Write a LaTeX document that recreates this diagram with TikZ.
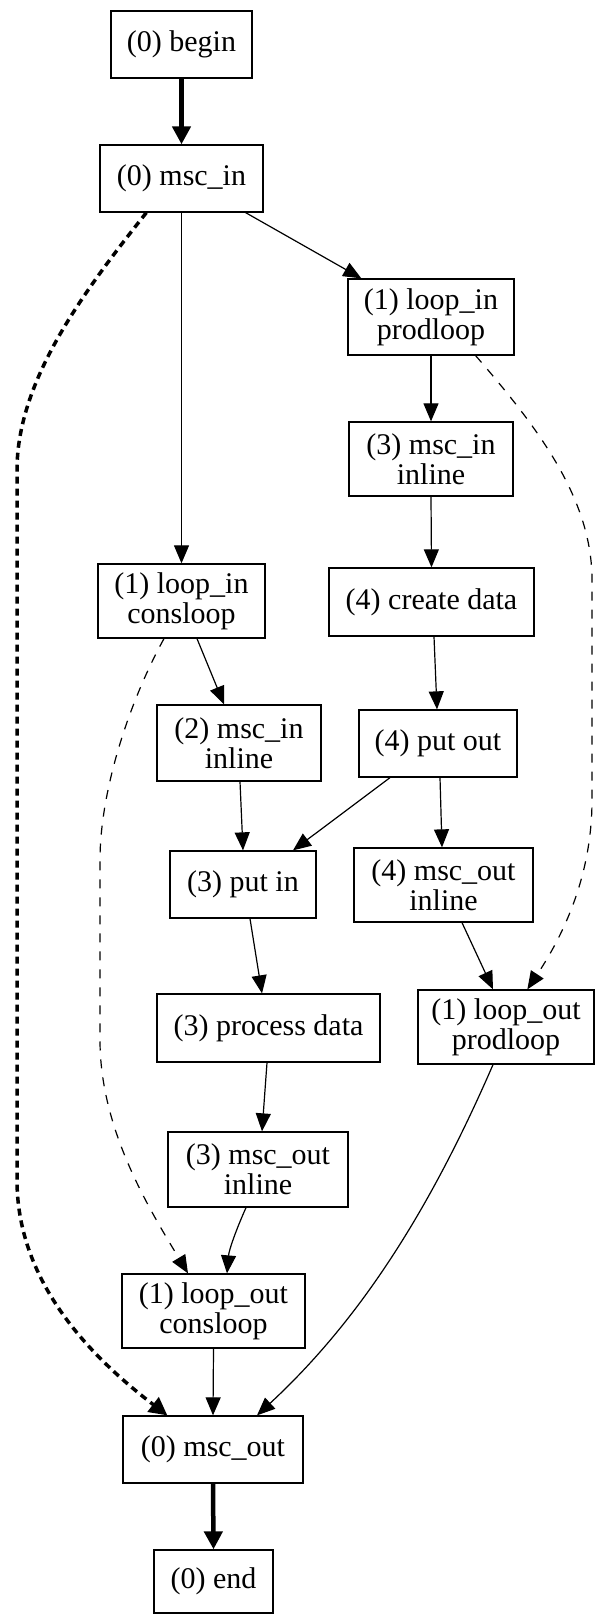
\documentclass[tikz,border=0pt]{standalone}
\usepackage{fontspec}
\setmainfont{Liberation Serif}
\usetikzlibrary{arrows.meta,calc}
\tikzset{
  box/.style={draw, line width=1.3pt, rectangle, inner sep=0pt, align=center,
    font=\fontsize{30}{30}\selectfont},
  edge/.style={line width=1.2pt, -{Triangle[length=18pt,width=15pt]}},
  thickedge/.style={line width=4.5pt, -{Triangle[length=18pt,width=18pt]}},
  thindash/.style={edge, dash pattern=on 9pt off 9pt},
  thickdash/.style={line width=3.5pt, dash pattern=on 7pt off 5pt,
    -{Triangle[length=18pt,width=18pt]}},
}
\begin{document}
\begin{tikzpicture}[x=1pt,y=-1pt]
\useasboundingbox (0,0) rectangle (595,1614);
\node[box, minimum width=141pt, minimum height=67pt] (begin) at (181.5,44.5) {(0) begin};
\node[box, minimum width=163pt, minimum height=67pt] (mscin) at (181.5,178.5) {(0) msc\_in};
\node[box, minimum width=166pt, minimum height=76pt] (lip) at (431,317) {(1) loop\_in\\prodloop};
\node[box, minimum width=164pt, minimum height=74pt] (mii3) at (431,459) {(3) msc\_in\\inline};
\node[box, minimum width=167pt, minimum height=74pt] (lic) at (181.5,601) {(1) loop\_in\\consloop};
\node[box, minimum width=205pt, minimum height=68pt] (cd) at (431.5,602) {(4) create data};
\node[box, minimum width=164pt, minimum height=76pt] (mii2) at (239,743) {(2) msc\_in\\inline};
\node[box, minimum width=158pt, minimum height=67pt] (po) at (438,743.5) {(4) put out};
\node[box, minimum width=146pt, minimum height=67pt] (pi) at (243,884.5) {(3) put in};
\node[box, minimum width=179pt, minimum height=74pt] (moi4) at (443.5,885) {(4) msc\_out\\inline};
\node[box, minimum width=223pt, minimum height=68pt] (pd) at (268.5,1028) {(3) process data};
\node[box, minimum width=176pt, minimum height=74pt] (lop) at (506,1027) {(1) loop\_out\\prodloop};
\node[box, minimum width=180pt, minimum height=75pt] (moi3) at (258,1169.5) {(3) msc\_out\\inline};
\node[box, minimum width=183pt, minimum height=74pt] (loc) at (213.5,1311) {(1) loop\_out\\consloop};
\node[box, minimum width=180pt, minimum height=67pt] (mo) at (213,1449.5) {(0) msc\_out};
\node[box, minimum width=119pt, minimum height=63pt] (end) at (213.5,1581.5) {(0) end};

\draw[thickedge] (begin.south) -- (mscin.north);
\draw[edge] (mscin.south) -- (lic.north);
\draw[edge] ($(mscin.south east)+(-18,0)$) -- ($(lip.north west)+(14,0)$);
\draw[thickdash] ($(mscin.south west)+(47,0)$) .. controls (85,290) and (17,380) .. (17,470)
   -- (17,1180) .. controls (17,1285) and (95,1360) .. ($(mo.north west)+(45,0)$);
\draw[edge] (lip.south) -- (mii3.north);
\draw[thindash] ($(lip.south east)+(-39,0)$) .. controls (540,430) and (592,500) .. (592,580)
   -- (592,800) .. controls (592,880) and (560,940) .. ($(lop.north west)+(110,0)$);
\draw[edge] (mii3.south) -- (cd.north);
\draw[edge] ($(cd.south)+(2.5,0)$) -- ($(po.north)+(-1,0)$);
\draw[edge] ($(lic.south)+(15.5,0)$) -- ($(mii2.north)+(-15,0)$);
\draw[thindash] ($(lic.south)+(-17.5,0)$) .. controls (130,700) and (100,790) .. (100,860)
   -- (100,1040) .. controls (100,1130) and (150,1210) .. ($(loc.north)+(-25.5,0)$);
\draw[edge] ($(mii2.south)+(1,0)$) -- (pi.north);
\draw[edge] ($(po.south)+(-48,0)$) -- ($(pi.north)+(50,0)$);
\draw[edge] ($(po.south)+(2,0)$) -- ($(moi4.north)+(-1.5,0)$);
\draw[edge] ($(pi.south)+(7,0)$) -- ($(pd.north)+(-6.5,0)$);
\draw[edge] ($(moi4.south)+(18.5,0)$) -- ($(lop.north)+(-13,0)$);
\draw[edge] ($(pd.south)+(-1.5,0)$) -- ($(moi3.north)+(4,0)$);
\draw[edge] ($(moi3.south)+(-12,0)$) .. controls (236,1230) and (229,1250) .. ($(loc.north)+(13.5,0)$);
\draw[edge] (loc.south) -- (mo.north);
\draw[edge] ($(lop.south)+(-13,0)$) .. controls (430,1210) and (360,1320) .. ($(mo.north)+(44,0)$);
\draw[thickedge] (mo.south) -- (end.north);
\end{tikzpicture}
\end{document}
